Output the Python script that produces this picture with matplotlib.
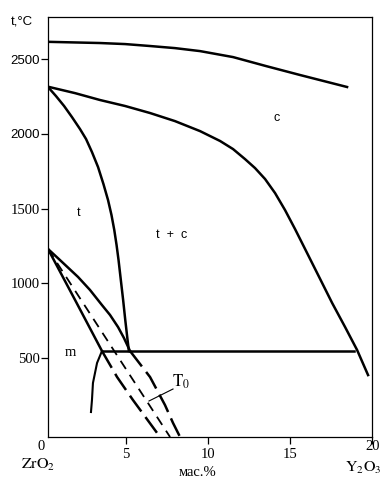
import matplotlib
matplotlib.use("Agg")
import matplotlib.pyplot as plt

plt.rcParams['mathtext.fontset'] = 'stix'
plt.rcParams['lines.scale_dashes'] = False

# liquidus (top line)
liq_x = [0.25, 3.42, 4.95, 6.47, 7.99, 9.52, 11.53, 13.54, 15.62, 18.48]
liq_t = [2615, 2607, 2600, 2587, 2573, 2553, 2513, 2453, 2393, 2313]

# c / (t + c) boundary
c_x = [0.25, 1.90, 3.42, 4.95, 6.47, 7.99, 9.52, 10.74, 11.53, 12.26, 12.87, 13.48,
       14.09, 14.70, 15.31, 15.92, 16.84, 17.57, 18.36, 19.09, 19.76]
c_t = [2315, 2272, 2226, 2186, 2139, 2085, 2018, 1952, 1898, 1831, 1771, 1698,
       1604, 1490, 1363, 1230, 1029, 869, 708, 555, 387]

# t / (t + c) boundary
t_x = [0.25, 0.74, 1.23, 1.71, 2.20, 2.57, 2.93, 3.30, 3.63, 3.91,
       4.12, 4.29, 4.43, 4.55, 4.69, 4.83, 4.96, 5.10, 5.18]
t_t = [2313, 2252, 2186, 2112, 2032, 1965, 1878, 1778, 1664, 1557,
       1457, 1357, 1256, 1156, 1022, 889, 755, 621, 548]

# eutectoid
eut_x = [3.54, 18.91]
eut_t = [548, 548]

# upper t / (t + m) boundary, solid part and metastable extension
up_x = [0.25, 0.98, 2.08, 2.81, 3.54, 4.03, 4.52, 4.88, 5.25]
up_t = [1230, 1156, 1043, 956, 855, 789, 708, 635, 548]
up_ext_x = [5.25, 6.47, 7.38, 7.87, 8.30]
up_ext_t = [548, 374, 187, 67, -27]

# lower m / (t + m) boundary
lo_x = [0.25, 1.90, 3.54]
lo_t = [1230, 889, 548]
lo_ext_x = [3.54, 4.46, 5.43, 7.08]
lo_ext_t = [548, 374, 220, -27]

# T0 line
t0_x = [0.25, 7.69]
t0_t = [1230, -27]

# m boundary below eutectoid
m_x = [3.54, 3.24, 2.99, 2.93, 2.87]
m_t = [548, 468, 334, 220, 140]

W, H = 389, 483
fig = plt.figure(figsize=(W / 100, H / 100), dpi=100)
ax = fig.add_axes([48 / W, 1 - 437 / H, 324 / W, 420 / H])

lw = 1.8
k = 'black'
ax.plot(liq_x, liq_t, color=k, lw=lw)
ax.plot(c_x, c_t, color=k, lw=lw)
ax.plot(t_x, t_t, color=k, lw=lw)
ax.plot(eut_x, eut_t, color=k, lw=lw)
ax.plot(up_x, up_t, color=k, lw=lw)
ax.plot(lo_x, lo_t, color=k, lw=lw)
ax.plot(up_ext_x, up_ext_t, color=k, lw=lw, dashes=(14, 5))
ax.plot(lo_ext_x, lo_ext_t, color=k, lw=lw, dashes=(14, 5))
ax.plot(t0_x, t0_t, color=k, lw=1.3, dashes=(7, 5))
ax.plot(m_x, m_t, color=k, lw=1.5)

ax.set_xlim(0.25, 20)
ax.set_ylim(-27, 2781)
for s in ax.spines.values():
    s.set_linewidth(0.9)

ax.set_xticks([5, 10, 15, 20])
ax.set_xticklabels(['5', '10', '15', ''], family='Liberation Serif', fontsize=10.5)
ax.set_yticks([500, 1000, 1500, 2000, 2500])
ax.set_yticklabels(['500', '1000', '1500', '2000', '2500'], family='Liberation Serif', fontsize=10.5)
for lab in ax.get_yticklabels()[3:]:
    lab.set_family('Liberation Sans')
    lab.set_fontsize(9.5)
ax.tick_params(direction='out', length=5, width=0.9, pad=1)
ax.tick_params(axis='x', pad=3)


def ftext(px, py, s, **kw):
    fig.text(px / W, 1 - py / H, s, ha='center', va='center', **kw)


serif = dict(family='Liberation Serif', fontsize=10.5)
sans = dict(family='Liberation Sans', fontsize=9.5)

ftext(22, 22, 't,°C', **sans)
ftext(41, 447, '0', **serif)
ftext(373, 447, '20', **serif)
ftext(38, 465, r'$\mathrm{ZrO_2}$', fontsize=11.5)
ftext(198, 472, 'мас.%', **serif)
ftext(363, 468, r'$\mathrm{Y_2O_3}$', fontsize=11.5)

ftext(277, 118, 'c', family='Liberation Sans', fontsize=9)
ftext(79, 213, 't', family='Liberation Sans', fontsize=9)
ftext(172, 235, 't  +  c', family='Liberation Sans', fontsize=9)
ftext(70, 352, 'm', **serif)
ftext(181, 382, r'$\mathrm{T_0}$', fontsize=12)

# pointer from T0 label to its line
fig.add_artist(plt.Line2D([173 / W, 149 / W], [1 - 389 / H, 1 - 401 / H], color=k, lw=0.8))

fig.savefig('out.png', dpi=100)
